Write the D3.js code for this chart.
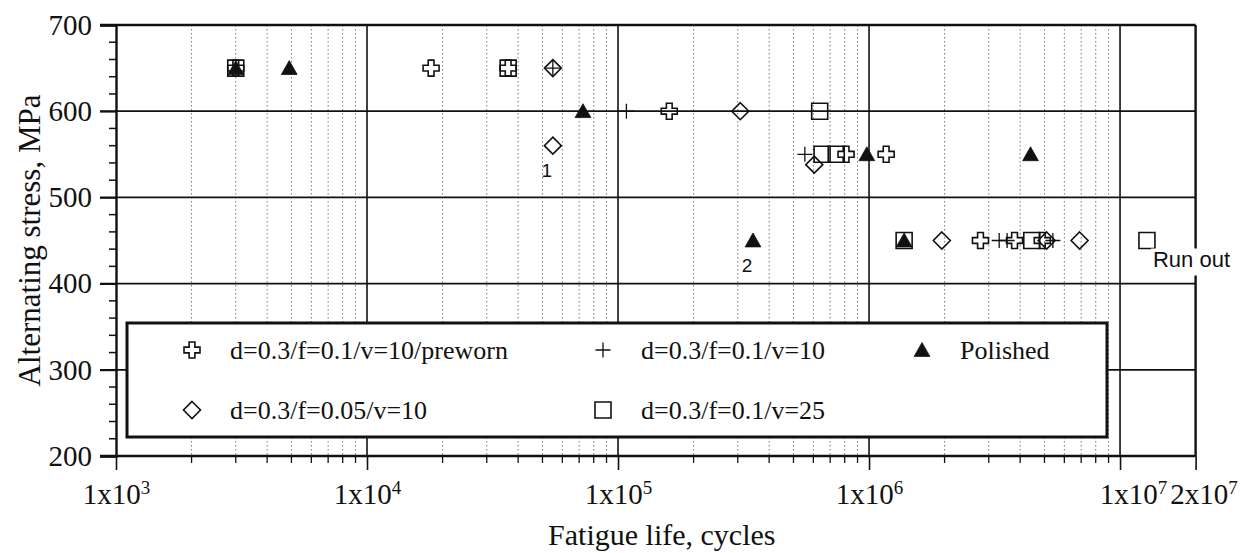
<!DOCTYPE html>
<html><head><meta charset="utf-8">
<script src="https://cdn.jsdelivr.net/npm/d3@7"></script>
<style>body{margin:0;background:#fff}</style>
</head><body>
<svg id="c" width="1244" height="553"></svg>
<script>
// ---------- data ----------
const xTicks = [1e3, 1e4, 1e5, 1e6, 1e7, 2e7];
const xTickMantissa = ["1x10", "1x10", "1x10", "1x10", "1x10", "2x10"];
const xTickExponent = ["3", "4", "5", "6", "7", "7"];
const yTicks = [200, 300, 400, 500, 600, 700];

const seriesNames = ["d=0.3/f=0.1/v=10/preworn", "d=0.3/f=0.1/v=10", "Polished", "d=0.3/f=0.05/v=10", "d=0.3/f=0.1/v=25"];

const prewornN = [3000, 18000, 36500, 160000, 810000, 1170000, 2780000, 3800000, 4900000];
const prewornS = [650, 650, 650, 600, 550, 550, 450, 450, 450];

const plusN = [55000, 108000, 555000, 3300000, 3550000, 5400000];
const plusS = [650, 600, 550, 450, 450, 450];

const polishedN = [3000, 4900, 72500, 980000, 345000, 1380000, 4400000];
const polishedS = [650, 650, 600, 550, 450, 450, 550];

const diamondN = [55000, 55000, 307000, 605000, 1950000, 5100000, 6900000];
const diamondS = [650, 560, 600, 538, 450, 450, 450];

const squareN = [3000, 36500, 636000, 650000, 740000, 1380000, 4450000, 12800000];
const squareS = [650, 650, 600, 550, 550, 450, 450, 450];

const annotations = [
  {text: "1", n: 55000, s: 560},
  {text: "2", n: 345000, s: 450}
];
const runOut = {text: "Run out", n: 12800000, s: 450};

const xTitle = "Fatigue life, cycles";
const yTitle = "Alternating stress, MPa";

// ---------- layout ----------
const L = 116, R = 1195.6, T = 25, B = 456;
const x = d3.scaleLog().domain([1e3, 2e7]).range([L, R]);
const y = d3.scaleLinear().domain([200, 700]).range([B, T]);
const svg = d3.select("#c");
const serif = "Liberation Serif, Times New Roman, serif";
const sans = "Liberation Sans, Arial, sans-serif";

// minor decade values
const minorX = [];
for (let d = 1e3; d < 1e7; d *= 10) for (let k = 2; k <= 9; k++) minorX.push(d * k);

// minor vertical grid (dotted)
svg.append("g").selectAll("line").data(minorX).join("line")
  .attr("x1", d => x(d)).attr("x2", d => x(d))
  .attr("y1", T).attr("y2", B)
  .attr("stroke", "#777").attr("stroke-width", 1).attr("stroke-dasharray", "1.5,2.5");

// major vertical grid
svg.append("g").selectAll("line").data(xTicks.filter(d => d > 1e3 && d < 2e7)).join("line")
  .attr("x1", d => x(d)).attr("x2", d => x(d))
  .attr("y1", T).attr("y2", B)
  .attr("stroke", "#111").attr("stroke-width", 1.6);

// horizontal grid
svg.append("g").selectAll("line").data(yTicks).join("line")
  .attr("x1", L - 16).attr("x2", R)
  .attr("y1", d => y(d)).attr("y2", d => y(d))
  .attr("stroke", "#111").attr("stroke-width", d => (d === 200 || d === 700) ? 2.4 : 1.8);

// y axis
const yAxis = d3.axisLeft(y).tickValues(yTicks).tickSize(16).tickPadding(8).tickFormat(d3.format("d"));
const gy = svg.append("g").attr("transform", `translate(${L},0)`).call(yAxis);
gy.select(".domain").attr("stroke", "#111").attr("stroke-width", 2.4);
gy.selectAll(".tick line").attr("stroke", "#111").attr("stroke-width", 1.8);
gy.selectAll(".tick text").attr("font-family", serif).attr("font-size", 29).attr("fill", "#111");
// y minor ticks
const minorY = d3.range(220, 700, 20).filter(v => v % 100 !== 0);
svg.append("g").selectAll("line").data(minorY).join("line")
  .attr("x1", L - 7).attr("x2", L).attr("y1", d => y(d)).attr("y2", d => y(d))
  .attr("stroke", "#111").attr("stroke-width", 1.5);

// x axis
const xAxis = d3.axisBottom(x).tickValues(xTicks).tickSize(14).tickPadding(14).tickFormat("");
const gx = svg.append("g").attr("transform", `translate(0,${B})`).call(xAxis);
gx.select(".domain").remove();
gx.selectAll(".tick line").attr("stroke", "#111").attr("stroke-width", 1.6);
gx.selectAll(".tick text").each(function(d, i) {
  const t = d3.select(this).attr("font-family", serif).attr("font-size", 29).attr("fill", "#111")
    .attr("y", 48).attr("dy", 0).attr("dx", i === 4 ? 13 : (i === 5 ? 8 : 0));
  t.append("tspan").text(xTickMantissa[i]);
  t.append("tspan").text(xTickExponent[i]).attr("font-size", 19).attr("dy", -10);
});
// x minor ticks
svg.append("g").selectAll("line").data(minorX).join("line")
  .attr("x1", d => x(d)).attr("x2", d => x(d)).attr("y1", B).attr("y2", B + 7)
  .attr("stroke", "#111").attr("stroke-width", 1.3);

// frame right
svg.append("line").attr("x1", R).attr("x2", R).attr("y1", T).attr("y2", B)
  .attr("stroke", "#111").attr("stroke-width", 2.4);

// axis titles
svg.append("text").attr("x", (L + R) / 2 + 6).attr("y", 545).attr("text-anchor", "middle")
  .attr("font-family", serif).attr("font-size", 30).attr("fill", "#111").text(xTitle);
svg.append("text").attr("transform", `translate(40,${(T + B) / 2}) rotate(-90)`).attr("text-anchor", "middle")
  .attr("font-family", serif).attr("font-size", 31).attr("fill", "#111").text(yTitle);

// ---------- symbols ----------
const symPreworn = {draw(c, s) {
  const a = s, b = s * 0.36;
  c.moveTo(-b, -a); c.lineTo(b, -a); c.lineTo(b, -b); c.lineTo(a, -b); c.lineTo(a, b); c.lineTo(b, b);
  c.lineTo(b, a); c.lineTo(-b, a); c.lineTo(-b, b); c.lineTo(-a, b); c.lineTo(-a, -b); c.lineTo(-b, -b); c.closePath();
}};
const symPlus = {draw(c, s) { c.moveTo(-s, 0); c.lineTo(s, 0); c.moveTo(0, -s); c.lineTo(0, s); }};
const symTri = {draw(c, s) { c.moveTo(0, -s); c.lineTo(s * 1.05, s * 0.85); c.lineTo(-s * 1.05, s * 0.85); c.closePath(); }};
const symDiamond = {draw(c, s) { c.moveTo(0, -s); c.lineTo(s, 0); c.lineTo(0, s); c.lineTo(-s, 0); c.closePath(); }};
const symSquare = {draw(c, s) { c.rect(-s, -s, 2 * s, 2 * s); }};

const styles = [
  {type: symPreworn, size: 8, fill: "none", sw: 1.6},
  {type: symPlus, size: 7.5, fill: "none", sw: 1.3},
  {type: symTri, size: 7.5, fill: "#111", sw: 0.8},
  {type: symDiamond, size: 8.5, fill: "none", sw: 1.6},
  {type: symSquare, size: 8, fill: "none", sw: 1.6}
];
const seriesData = [
  prewornN.map((n, i) => ({n, s: prewornS[i]})),
  plusN.map((n, i) => ({n, s: plusS[i]})),
  polishedN.map((n, i) => ({n, s: polishedS[i]})),
  diamondN.map((n, i) => ({n, s: diamondS[i]})),
  squareN.map((n, i) => ({n, s: squareS[i]}))
];

// ---------- legend ----------
const lg = svg.append("g");
lg.append("rect").attr("x", 127).attr("y", 323).attr("width", 980).attr("height", 114)
  .attr("fill", "#fff").attr("stroke", "#111").attr("stroke-width", 3);
const legendPos = [[192, 350], [603, 350], [922, 350], [192, 410], [603, 410]];
seriesNames.forEach((name, i) => {
  const st = styles[i];
  const [lx, ly] = legendPos[i];
  lg.append("path").attr("d", d3.symbol().type(st.type).size(st.size)())
    .attr("transform", `translate(${lx},${ly})`)
    .attr("fill", st.fill).attr("stroke", "#111").attr("stroke-width", st.sw);
  lg.append("text").attr("x", lx + 38).attr("y", ly + 9).attr("font-family", serif).attr("font-size", 26)
    .attr("fill", "#111").text(name);
});

// ---------- markers ----------
seriesData.forEach((data, i) => {
  const st = styles[i];
  svg.append("g").selectAll("path").data(data).join("path")
    .attr("d", d3.symbol().type(st.type).size(st.size))
    .attr("transform", d => `translate(${x(d.n)},${y(d.s)})`)
    .attr("fill", st.fill).attr("stroke", "#111").attr("stroke-width", st.sw);
});

// annotations
svg.append("g").selectAll("text").data(annotations).join("text")
  .attr("x", d => x(d.n) - 6).attr("y", d => y(d.s) + 31).attr("text-anchor", "middle")
  .attr("font-family", sans).attr("font-size", 19).attr("fill", "#111").text(d => d.text);

// run out label with white background
const ro = svg.append("g");
const roRect = ro.append("rect").attr("fill", "#fff");
const roText = ro.append("text").attr("x", x(runOut.n) + 6).attr("y", y(runOut.s) + 26)
  .attr("font-family", sans).attr("font-size", 22).attr("fill", "#111").text(runOut.text);
const bb = roText.node().getBBox();
roRect.attr("x", bb.x - 2).attr("y", bb.y + 2).attr("width", bb.width + 4).attr("height", bb.height + 2);
</script>
</body></html>
